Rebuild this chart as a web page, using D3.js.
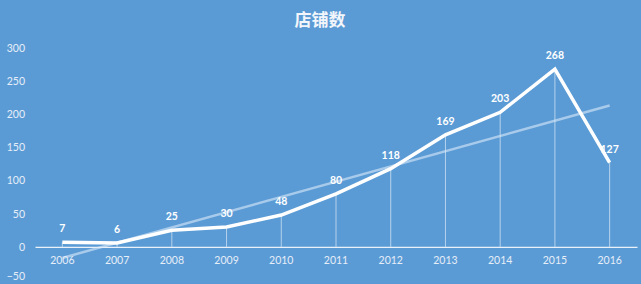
<!DOCTYPE html>
<html><head><meta charset="utf-8">
<script src="https://cdn.jsdelivr.net/npm/d3@7"></script>
<style>body{margin:0;background:#5b9bd5;}svg{display:block;}</style>
</head><body>
<svg id="c" width="641" height="284"></svg>
<script>
const years = ["2006","2007","2008","2009","2010","2011","2012","2013","2014","2015","2016"];
const stores = [7,6,25,30,48,80,118,169,203,268,127];
const yTicks = [-50,0,50,100,150,200,250,300];
const title = "店铺数";

const W = 641, H = 284;
const svg = d3.select("#c");
svg.append("rect").attr("width",W).attr("height",H).attr("fill","#5b9bd5");

const x = d3.scaleBand().domain(years).range([35,637]);
const y = d3.scaleLinear().domain([-50,300]).range([280,48]);
const cx = d => x(d) + x.bandwidth()/2;

// title
svg.append("text").attr("x",320).attr("y",26).attr("text-anchor","middle")
  .attr("fill","#f2f6fb").attr("font-family","'Noto Sans CJK SC'").attr("font-weight","bold")
  .attr("font-size",17).text(title);

// y axis labels
const yAxis = d3.axisLeft(y).tickValues(yTicks).tickSize(0).tickPadding(0);
const yg = svg.append("g").attr("transform","translate(25,0)").call(yAxis);
yg.select(".domain").remove();
yg.selectAll("text").attr("fill","#e6eef8")
  .attr("font-family","Lato, 'Open Sans', sans-serif").attr("font-size",10.5)
  .attr("dy", d => d === -50 ? "-0.05em" : "0.32em");

// drop lines
svg.append("g").selectAll("line").data(years).join("line")
  .attr("x1",d=>cx(d)).attr("x2",d=>cx(d))
  .attr("y1",(d,i)=>y(stores[i])).attr("y2",y(0))
  .attr("stroke","rgba(255,255,255,0.55)").attr("stroke-width",1);

// x axis
const xAxis = d3.axisBottom(x).tickSize(0).tickPadding(10);
const xg = svg.append("g").attr("transform",`translate(0,${y(0)})`).call(xAxis);
xg.select(".domain").attr("stroke","#eaf1f9").attr("stroke-width",1.2);
xg.selectAll("text").attr("fill","#e6eef8")
  .attr("font-family","Lato, 'Open Sans', sans-serif").attr("font-size",10.5);

// linear trend (least squares from data)
const n = stores.length;
const mx = d3.mean(d3.range(n)), my = d3.mean(stores);
const slope = d3.sum(stores,(v,i)=>(i-mx)*(v-my)) / d3.sum(d3.range(n),i=>(i-mx)*(i-mx));
const icpt = my - slope*mx;
svg.append("line")
  .attr("x1",cx(years[0])).attr("y1",y(icpt))
  .attr("x2",cx(years[n-1])).attr("y2",y(icpt+slope*(n-1)))
  .attr("stroke","rgba(220,235,250,0.6)").attr("stroke-width",2.5);

// main line
const line = d3.line().x((d,i)=>cx(years[i])).y(d=>y(d));
svg.append("path").datum(stores).attr("d",line).attr("fill","none")
  .attr("stroke","#ffffff").attr("stroke-width",3.5).attr("stroke-linejoin","miter");

// value labels
svg.append("g").selectAll("text").data(stores).join("text")
  .attr("x",(d,i)=>cx(years[i])).attr("y",d=>y(d)-10)
  .attr("text-anchor","middle").attr("fill","#ffffff").attr("font-weight","bold")
  .attr("font-family","Lato, 'Open Sans', sans-serif").attr("font-size",10.5)
  .text(d=>d);
</script>
</body></html>
